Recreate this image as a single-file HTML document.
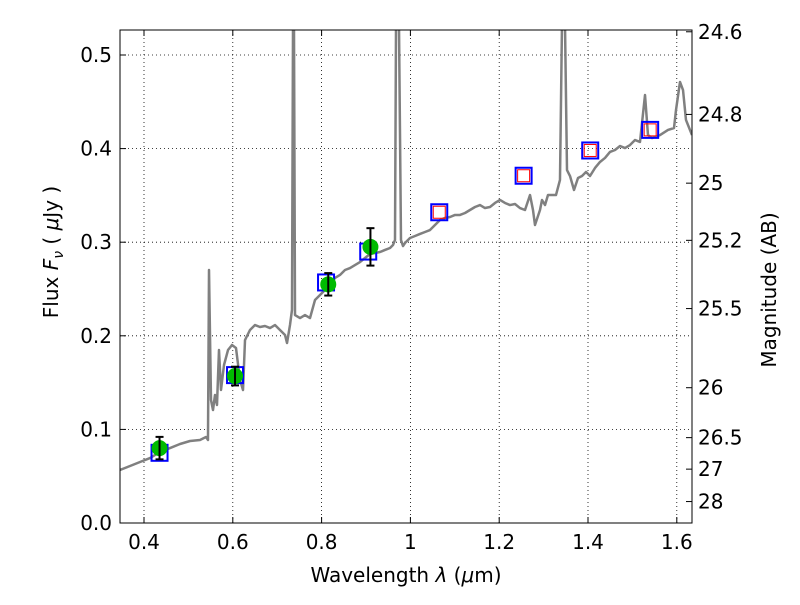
<!DOCTYPE html>
<html><head><meta charset="utf-8"><style>body{margin:0;background:#fff}svg{font-family:"DejaVu Sans","Liberation Sans",sans-serif}</style></head>
<body>
<svg id="c" width="800" height="600"></svg>
<script>
const specPx = [[120,470],[130,466],[140,462],[150,458],[160,452],[170,448],[180,444],[190,441],[200,440],[206,437],[208,440],[209,270],[211,400],[213,410],[215,395],[217,405],[219,350],[221,390],[224,365],[228,350],[232,345],[236,348],[240,380],[243,390],[245,340],[250,330],[255,325],[260,327],[265,326],[270,328],[275,325],[280,330],[285,335],[287,343],[290,325],[292,310],[293,25],[294,25],[295,315],[300,318],[305,315],[310,318],[315,300],[320,295],[325,290],[330,285],[335,278],[340,275],[345,270],[350,268],[355,265],[360,262],[365,258],[370,254],[380,252],[385,250],[390,248],[393,245],[395,240],[396,25],[399,25],[401,240],[403,246],[405,243],[410,238],[415,236],[420,234],[425,232],[430,230],[435,225],[440,220],[445,218],[450,217],[455,215],[460,215],[465,213],[470,210],[475,207],[480,205],[485,208],[490,207],[495,203],[500,200],[505,203],[510,205],[515,204],[520,208],[525,210],[530,195],[533,210],[535,225],[540,210],[542,200],[545,205],[548,195],[552,195],[556,195],[560,180],[562,25],[565,25],[567,170],[570,176],[574,190],[578,178],[582,176],[586,172],[590,176],[595,168],[600,162],[605,158],[610,152],[615,150],[620,146],[625,148],[630,145],[635,140],[640,142],[645,95],[648,135],[652,138],[660,135],[668,130],[674,128],[676,110],[680,82],[683,90],[686,120],[692,135]];
// spectrum in data units (wavelength, flux)
const specWave = specPx.map(p=>+(0.4+(p[0]-144)/444).toFixed(4));
const specFlux = specPx.map(p=>+((523-p[1])/936).toFixed(4));
const obsWave = [0.435,0.605,0.815,0.91];
const obsFlux = [0.080,0.157,0.255,0.295];
const obsErr = [0.012,0.010,0.012,0.020];
const modWave = [0.435,0.605,0.81,0.905,1.065,1.255,1.405,1.54];
const modFlux = [0.075,0.158,0.257,0.290,0.332,0.371,0.398,0.420];
const predWave = [1.065,1.255,1.405,1.54];
const predFlux = [0.332,0.371,0.398,0.420];
const xTicks = [0.4,0.6,0.8,1.0,1.2,1.4,1.6];
const xLabels = ["0.4","0.6","0.8","1","1.2","1.4","1.6"];
const yTicks = [0,0.1,0.2,0.3,0.4,0.5];
const yLabels = ["0.0","0.1","0.2","0.3","0.4","0.5"];
const magTicks = [24.6,24.8,25,25.2,25.5,26,26.5,27,28];
const magLabels = ["24.6","24.8","25","25.2","25.5","26","26.5","27","28"];

const L=120,R=692,T=30,B=523;
const X=v=>144+(v-0.4)*444, Y=v=>523-v*936;
const M=m=>Y(Math.pow(10,(23.9-m)/2.5));
const svg=document.getElementById('c');const NS='http://www.w3.org/2000/svg';
function mk(t,a,p){const e=document.createElementNS(NS,t);for(const k in a)e.setAttribute(k,a[k]);(p||svg).appendChild(e);return e;}
const defs=mk('defs',{});const cp=mk('clipPath',{id:'cp'},defs);mk('rect',{x:L,y:T,width:R-L,height:B-T},cp);
const grid=mk('g',{});
xTicks.forEach(v=>mk('line',{x1:X(v),x2:X(v),y1:T,y2:B,stroke:'#000','stroke-width':0.8,'stroke-dasharray':'1,3'},grid));
yTicks.forEach(v=>mk('line',{x1:L,x2:R,y1:Y(v),y2:Y(v),stroke:'#000','stroke-width':0.8,'stroke-dasharray':'1,3'},grid));
const pg=mk('g',{'clip-path':'url(#cp)'});
const sp=mk('polyline',{points:specWave.map((w,i)=>X(w)+','+Y(specFlux[i])).join(' '),fill:'none',stroke:'#808080','stroke-width':2.5,'stroke-linejoin':'round'},pg);

modWave.forEach((w,i)=>{const r=mk('rect',{x:X(w)-8,y:Y(modFlux[i])-8,width:16,height:16,fill:'none',stroke:'#0000ff','stroke-width':2},pg);
});
predWave.forEach((w,i)=>{const r=mk('rect',{x:X(w)-6,y:Y(predFlux[i])-6,width:12,height:12,fill:'none',stroke:'#ff0000','stroke-width':1},pg);
});
obsWave.forEach((w,i)=>{const g=mk('g',{},pg);
const x=X(w),y=Y(obsFlux[i]);mk('circle',{cx:x,cy:y,r:8,fill:'#00bb00'},g);
const y1=Y(obsFlux[i]+obsErr[i]),y2=Y(obsFlux[i]-obsErr[i]);
mk('line',{x1:x,x2:x,y1:y1,y2:y2,stroke:'#000','stroke-width':2},g);
mk('line',{x1:x-4,x2:x+4,y1:y1,y2:y1,stroke:'#000','stroke-width':2},g);
mk('line',{x1:x-4,x2:x+4,y1:y2,y2:y2,stroke:'#000','stroke-width':2},g);});
const fr=mk('rect',{x:L,y:T,width:R-L,height:B-T,fill:'none',stroke:'#000','stroke-width':1});
const ax=mk('g',{'font-size':20,fill:'#000'});
xTicks.forEach((v,i)=>{mk('line',{x1:X(v),x2:X(v),y1:B,y2:B-6,stroke:'#000'},ax);mk('line',{x1:X(v),x2:X(v),y1:T,y2:T+6,stroke:'#000'},ax);
const t=mk('text',{x:X(v),y:B+26,'text-anchor':'middle'},ax);t.textContent=xLabels[i];});
yTicks.forEach((v,i)=>{mk('line',{x1:L,x2:L+6,y1:Y(v),y2:Y(v),stroke:'#000'},ax);
const t=mk('text',{x:L-8,y:Y(v)+7,'text-anchor':'end'},ax);t.textContent=yLabels[i];});
magTicks.forEach((m,i)=>{mk('line',{x1:R,x2:R-6,y1:M(m),y2:M(m),stroke:'#000'},ax);
const t=mk('text',{x:R+6,y:M(m)+7,'text-anchor':'start'},ax);t.textContent=magLabels[i];});
let t=mk('text',{x:406,y:582,'text-anchor':'middle','font-size':20});t.innerHTML='Wavelength  <tspan font-style="italic">λ</tspan> (<tspan font-style="italic">μ</tspan>m)';

t=mk('text',{x:0,y:0,'text-anchor':'middle','font-size':20,transform:'translate(58,252) rotate(-90)'});t.innerHTML='Flux  <tspan font-style="italic">F</tspan><tspan font-style="italic" font-size="14" dy="5">ν</tspan><tspan dy="-5">  ( </tspan><tspan font-style="italic">μ</tspan>Jy )';

t=mk('text',{x:0,y:0,'text-anchor':'middle','font-size':20,transform:'translate(776,290) rotate(-90)'});t.textContent='Magnitude (AB)';

</script>
</body></html>
